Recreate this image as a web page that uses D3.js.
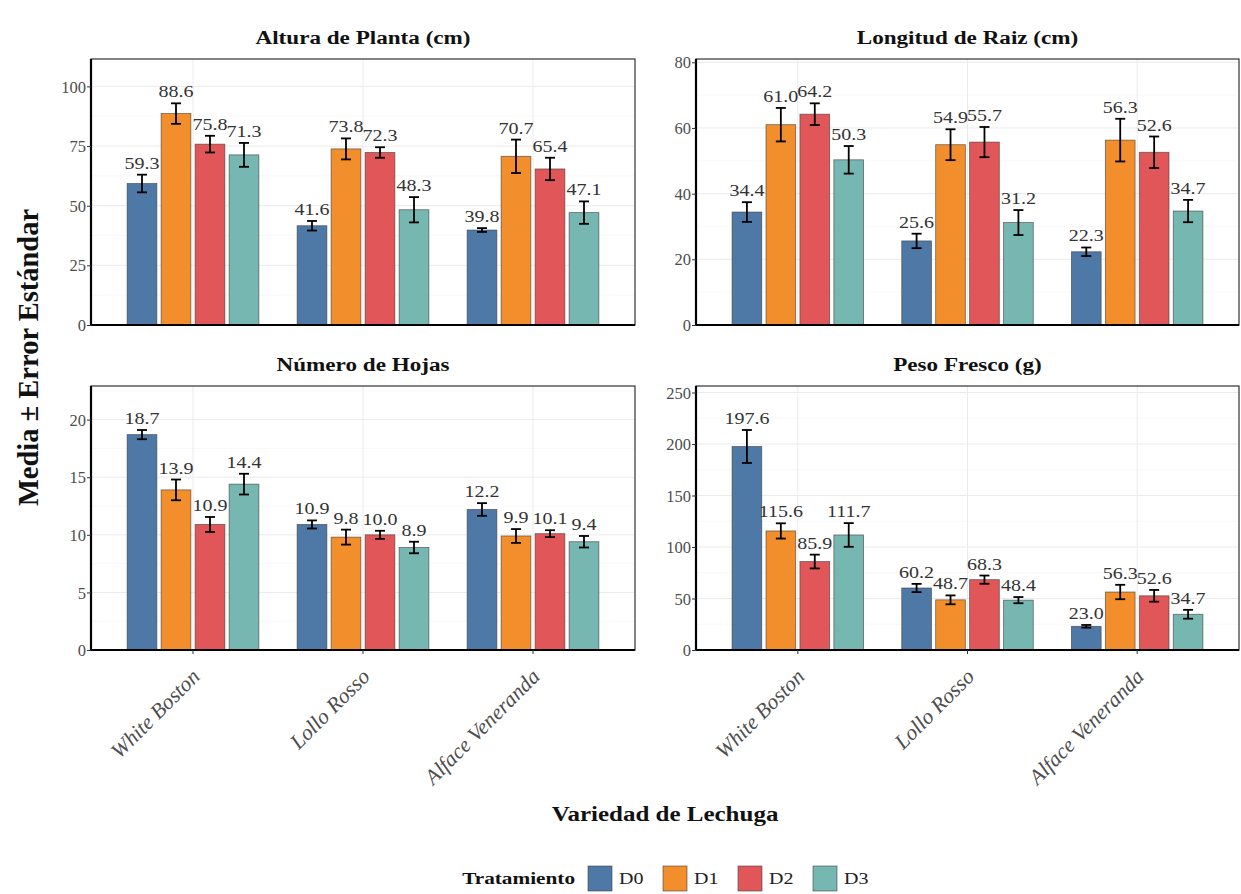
<!DOCTYPE html>
<html>
<head>
<meta charset="utf-8">
<script src="https://cdn.jsdelivr.net/npm/d3@7"></script>
<style>
  html, body { margin: 0; padding: 0; background: #fff; }
  svg text { font-family: "Liberation Serif", "Times New Roman", serif; }
</style>
</head>
<body>
<div id="chart"></div>
<script>
// data
const variedades = ["White Boston", "Lollo Rosso", "Alface Veneranda"];
const tratamientos = ["D0", "D1", "D2", "D3"];
const colores = ["#4E79A7", "#F28E2B", "#E15759", "#76B7B2"];

const altura   = [[59.3, 88.6, 75.8, 71.3], [41.6, 73.8, 72.3, 48.3], [39.8, 70.7, 65.4, 47.1]];
const alturaSE = [[3.7, 4.3, 3.5, 5.0], [2.0, 4.4, 2.2, 5.3], [0.8, 7.0, 4.7, 4.7]];
const raiz     = [[34.4, 61.0, 64.2, 50.3], [25.6, 54.9, 55.7, 31.2], [22.3, 56.3, 52.6, 34.7]];
const raizSE   = [[3.0, 5.1, 3.3, 4.2], [2.2, 4.7, 4.6, 3.8], [1.3, 6.5, 4.8, 3.4]];
const hojas    = [[18.7, 13.9, 10.9, 14.4], [10.9, 9.8, 10.0, 8.9], [12.2, 9.9, 10.1, 9.4]];
const hojasSE  = [[0.4, 0.9, 0.65, 0.9], [0.35, 0.65, 0.35, 0.5], [0.55, 0.6, 0.3, 0.5]];
const peso     = [[197.6, 115.6, 85.9, 111.7], [60.2, 48.7, 68.3, 48.4], [23.0, 56.3, 52.6, 34.7]];
const pesoSE   = [[16.0, 7.4, 6.7, 11.5], [4.0, 4.3, 4.0, 3.0], [1.3, 7.0, 5.7, 4.3]];

const ticksAltura = [0, 25, 50, 75, 100];
const ticksRaiz = [0, 20, 40, 60, 80];
const ticksHojas = [0, 5, 10, 15, 20];
const ticksPeso = [0, 50, 100, 150, 200, 250];

const titulos = ["Altura de Planta (cm)", "Longitud de Raiz (cm)", "Número de Hojas", "Peso Fresco (g)"];

const width = 1241, height = 894;
const SX = 1.25; // the reference text is drawn a bit wide

const svg = d3.select("#chart").append("svg")
  .attr("width", width)
  .attr("height", height);

const panels = [
  { title: titulos[0], mean: altura, se: alturaSE, ticks: ticksAltura, x0: 91, x1: 635, y0: 59, y1: 325, xlab: false },
  { title: titulos[1], mean: raiz, se: raizSE, ticks: ticksRaiz, x0: 696, x1: 1239, y0: 59, y1: 325, xlab: false },
  { title: titulos[2], mean: hojas, se: hojasSE, ticks: ticksHojas, x0: 91, x1: 635, y0: 386, y1: 650, xlab: true },
  { title: titulos[3], mean: peso, se: pesoSE, ticks: ticksPeso, x0: 696, x1: 1239, y0: 386, y1: 650, xlab: true }
];

function wideText(sel, x, y) {
  return sel.attr("transform", `translate(${x},${y}) scale(${SX},1)`);
}

panels.forEach(p => {
  const g = svg.append("g");

  const x = d3.scaleBand().domain(variedades).range([p.x0, p.x1])
    .paddingInner(0).paddingOuter(0.1);
  const xt = d3.scaleBand().domain(tratamientos)
    .range([-0.4 * x.step(), 0.4 * x.step()])
    .paddingInner(0.125).paddingOuter(0.0625);

  const top = d3.max(p.mean.flatMap((row, i) => row.map((m, j) => m + p.se[i][j])));
  const y = d3.scaleLinear().domain([0, top * 1.2]).range([p.y1, p.y0]);

  // grid
  const minor = d3.pairs(p.ticks).map(([a, b]) => (a + b) / 2);
  const lastStep = p.ticks[1] - p.ticks[0];
  const topTick = p.ticks[p.ticks.length - 1] + lastStep / 2;
  if (topTick < y.domain()[1]) minor.push(topTick);
  g.selectAll(".minor").data(minor).join("line")
    .attr("x1", p.x0).attr("x2", p.x1)
    .attr("y1", d => y(d)).attr("y2", d => y(d))
    .attr("stroke", "#f3f3f3").attr("stroke-width", 0.6);
  g.selectAll(".major").data(p.ticks).join("line")
    .attr("x1", p.x0).attr("x2", p.x1)
    .attr("y1", d => y(d)).attr("y2", d => y(d))
    .attr("stroke", "#ebebeb").attr("stroke-width", 1);
  g.selectAll(".vgrid").data(variedades).join("line")
    .attr("x1", d => x(d) + x.bandwidth() / 2).attr("x2", d => x(d) + x.bandwidth() / 2)
    .attr("y1", p.y0).attr("y2", p.y1)
    .attr("stroke", "#ebebeb").attr("stroke-width", 1);

  const rows = p.mean.flatMap((row, i) => row.map((m, j) => ({
    v: variedades[i], t: tratamientos[j], c: colores[j], m: m, se: p.se[i][j]
  })));
  const cx = d => x(d.v) + x.bandwidth() / 2 + xt(d.t) + xt.bandwidth() / 2;

  // bars
  g.selectAll(".bar").data(rows).join("rect")
    .attr("x", d => x(d.v) + x.bandwidth() / 2 + xt(d.t))
    .attr("width", xt.bandwidth())
    .attr("y", d => y(d.m))
    .attr("height", d => y(0) - y(d.m))
    .attr("fill", d => d.c)
    .attr("stroke", "#3a3a3a").attr("stroke-opacity", 0.7).attr("stroke-width", 0.8);

  // error bars
  const cap = 5;
  const eb = g.selectAll(".eb").data(rows).join("g").attr("stroke", "#000").attr("stroke-width", 1.8);
  eb.append("line").attr("x1", cx).attr("x2", cx)
    .attr("y1", d => y(d.m - d.se)).attr("y2", d => y(d.m + d.se));
  eb.append("line").attr("x1", d => cx(d) - cap).attr("x2", d => cx(d) + cap)
    .attr("y1", d => y(d.m - d.se)).attr("y2", d => y(d.m - d.se));
  eb.append("line").attr("x1", d => cx(d) - cap).attr("x2", d => cx(d) + cap)
    .attr("y1", d => y(d.m + d.se)).attr("y2", d => y(d.m + d.se));

  // value labels
  g.selectAll(".lab").data(rows).join("text")
    .each(function (d) { wideText(d3.select(this), cx(d), y(d.m + d.se) - 6); })
    .attr("text-anchor", "middle")
    .attr("font-size", 16)
    .attr("fill", "#333")
    .text(d => d.m.toFixed(1));

  // panel frame
  g.append("rect")
    .attr("x", p.x0).attr("y", p.y0)
    .attr("width", p.x1 - p.x0).attr("height", p.y1 - p.y0)
    .attr("fill", "none").attr("stroke", "#333").attr("stroke-width", 1.2);
  g.append("path")
    .attr("d", `M${p.x0},${p.y0}V${p.y1}H${p.x1}`)
    .attr("fill", "none").attr("stroke", "#000").attr("stroke-width", 2.2);

  // y axis
  const ay = g.append("g").attr("transform", `translate(${p.x0},0)`)
    .call(d3.axisLeft(y).tickValues(p.ticks).tickSize(4).tickPadding(4));
  ay.select(".domain").remove();
  ay.selectAll(".tick line").attr("stroke", "#333").attr("stroke-width", 1);
  ay.selectAll(".tick text")
    .attr("x", -5).attr("dy", "0.34em")
    .attr("font-size", 16.5)
    .attr("font-family", "Liberation Serif, serif")
    .attr("fill", "#4d4d4d");

  // x axis (bottom row only)
  if (p.xlab) {
    const ax = g.append("g").attr("transform", `translate(0,${p.y1})`)
      .call(d3.axisBottom(x).tickSize(4).tickFormat(""));
    ax.select(".domain").remove();
    ax.selectAll(".tick line").attr("stroke", "#333").attr("stroke-width", 1);
    g.selectAll(".xlab").data(variedades).join("text")
      .attr("transform", d => `translate(${x(d) + x.bandwidth() / 2 + 8},${p.y1 + 28}) rotate(-45)`)
      .attr("text-anchor", "end")
      .attr("font-size", 21.5)
      .attr("font-style", "italic")
      .attr("fill", "#4d4d4d")
      .text(d => d);
  }

  // facet title
  wideText(g.append("text"), (p.x0 + p.x1) / 2, p.y0 - 15)
    .attr("text-anchor", "middle")
    .attr("font-size", 18.5)
    .attr("font-weight", "bold")
    .attr("fill", "#111")
    .text(p.title);
});

// axis titles
svg.append("text")
  .attr("transform", `translate(38,${(59 + 650) / 2 + 3}) rotate(-90)`)
  .attr("text-anchor", "middle")
  .attr("font-size", 28.5)
  .attr("font-weight", "bold")
  .attr("fill", "#111")
  .text("Media ± Error Estándar");

wideText(svg.append("text"), (91 + 1239) / 2, 821)
  .attr("text-anchor", "middle")
  .attr("font-size", 20)
  .attr("font-weight", "bold")
  .attr("fill", "#111")
  .text("Variedad de Lechuga");

// legend
const leg = svg.append("g");
wideText(leg.append("text"), 575, 884)
  .attr("text-anchor", "end")
  .attr("font-size", 17)
  .attr("font-weight", "bold")
  .attr("fill", "#111")
  .text("Tratamiento");
const lx = d3.scalePoint().domain(tratamientos).range([588, 813]);
const items = leg.selectAll(".item").data(tratamientos).join("g")
  .attr("transform", d => `translate(${lx(d)},866)`);
items.append("rect")
  .attr("width", 24).attr("height", 25)
  .attr("fill", (d, i) => colores[i])
  .attr("stroke", "#3a3a3a").attr("stroke-opacity", 0.7).attr("stroke-width", 0.8);
items.append("text")
  .attr("transform", `translate(31,18) scale(${SX},1)`)
  .attr("font-size", 16)
  .attr("fill", "#222")
  .text(d => d);
</script>
</body>
</html>
